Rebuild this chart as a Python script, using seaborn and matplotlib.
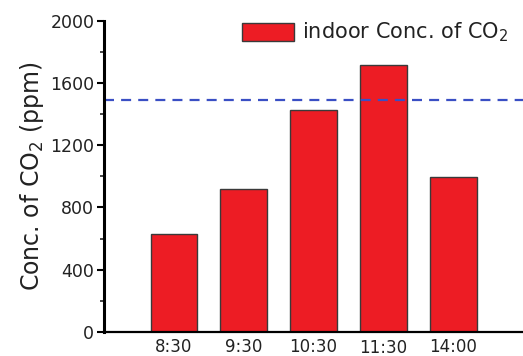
import matplotlib
matplotlib.use("Agg")
import matplotlib.pyplot as plt
import seaborn as sns
import pandas as pd
from matplotlib.ticker import MultipleLocator

times = ["8:30", "9:30", "10:30", "11:30", "14:00"]
conc = [632, 918, 1425, 1718, 993]
limit_value = 1488
series_label = "indoor Conc. of CO$_2$"

sns.set_style("white")
plt.rcParams["font.family"] = ["DejaVu Sans"]
plt.rcParams["mathtext.fontset"] = "dejavusans"

df = pd.DataFrame({"time": times, "conc": conc})

fig = plt.figure(figsize=(5.23, 3.56), dpi=100)
ax = fig.add_axes([0.199, 0.0674, 0.801, 0.8745])

sns.barplot(data=df, x="time", y="conc", ax=ax, color="#ED1C24",
            edgecolor="#3a3a3a", linewidth=1.0, width=0.67,
            label=series_label, saturation=1)
ax.axhline(limit_value, color="#3A4FC4", linestyle=(0, (4.5, 3.2)), linewidth=1.6)

ax.set_xlim(-1, 5)
ax.set_ylim(0, 2000)
ax.yaxis.set_major_locator(MultipleLocator(400))
ax.yaxis.set_minor_locator(MultipleLocator(200))

for s in ["top", "right"]:
    ax.spines[s].set_visible(False)
ax.spines["left"].set_linewidth(2.2)
ax.spines["bottom"].set_linewidth(1.6)
ax.spines["left"].set_color("black")
ax.spines["bottom"].set_color("black")

ax.tick_params(axis="y", which="major", direction="out", length=5, width=1.5,
               labelsize=12.5, pad=2, left=True, colors="black")
ax.tick_params(axis="y", which="minor", direction="out", length=3, width=1.2, left=True)
ax.tick_params(axis="x", which="both", length=0, labelsize=12, pad=4)
for lbl in ax.get_yticklabels() + ax.get_xticklabels():
    lbl.set_color("#222222")
ax.set_xlabel("")
ax.set_ylabel("Conc. of CO$_2$ (ppm)", fontsize=17, labelpad=3, color="#222222")

for lbl in ax.get_xticklabels():
    if lbl.get_text() == "11:30":
        lbl.set_y(-0.006)

ax.legend(loc="upper left", frameon=False, fontsize=15, handlelength=2.5,
          handleheight=0.95, handletextpad=0.4, bbox_to_anchor=(0.329, 1.0),
          borderaxespad=0, borderpad=0, labelcolor="#222222")

fig.savefig("out.png", dpi=100)
